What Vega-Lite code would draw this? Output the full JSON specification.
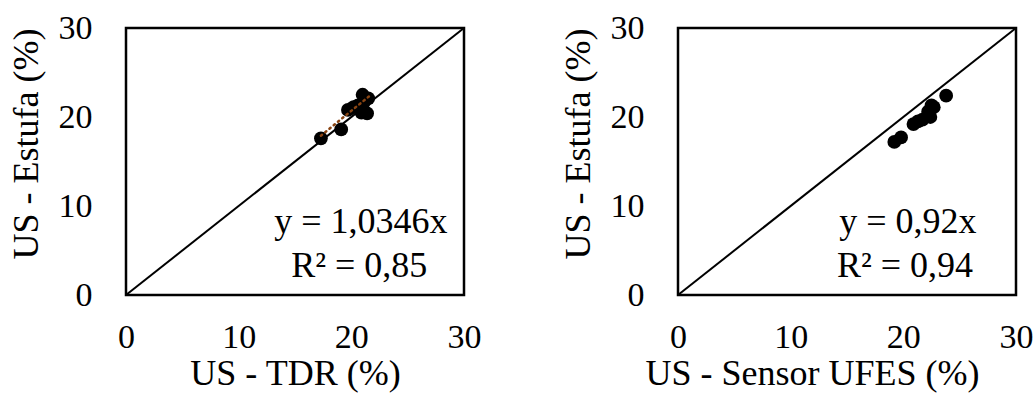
{
  "$schema": "https://vega.github.io/schema/vega-lite/v6.json",
  "background": "white",
  "padding": {"left": 6, "top": 9, "right": 0, "bottom": 0},
  "spacing": 75,
  "datasets": {
    "tdr": [
      {"x": 17.3, "y": 17.6},
      {"x": 19.1, "y": 18.6},
      {"x": 19.7, "y": 20.8},
      {"x": 20.2, "y": 21.1},
      {"x": 20.6, "y": 21.3},
      {"x": 20.9, "y": 20.5},
      {"x": 21.4, "y": 20.4},
      {"x": 21.1, "y": 21.6},
      {"x": 21.0, "y": 22.5},
      {"x": 21.5, "y": 22.1}
    ],
    "ufes": [
      {"x": 19.2, "y": 17.2},
      {"x": 19.8, "y": 17.7},
      {"x": 20.9, "y": 19.2},
      {"x": 21.3, "y": 19.5},
      {"x": 21.7, "y": 19.7},
      {"x": 22.4, "y": 20.0},
      {"x": 22.2, "y": 20.6},
      {"x": 22.7, "y": 21.1},
      {"x": 22.5, "y": 21.3},
      {"x": 23.8, "y": 22.4}
    ],
    "diag": [{"x": 0, "y": 0}, {"x": 30, "y": 30}],
    "trendTdr": [{"x": 17.3, "y": 17.9}, {"x": 21.6, "y": 22.35}],
    "eqTdr": [
      {"x": 20.85, "y": 7.0, "label": "y = 1,0346x"},
      {"x": 20.7, "y": 2.03, "label": "R² = 0,85"}
    ],
    "eqUfes": [
      {"x": 20.4, "y": 7.0, "label": "y = 0,92x"},
      {"x": 20.15, "y": 2.03, "label": "R² = 0,94"}
    ]
  },
  "hconcat": [
    {
      "width": 338,
      "height": 267,
      "layer": [
        {
          "data": {"name": "diag"},
          "mark": {"type": "line", "color": "black", "strokeWidth": 2},
          "encoding": {
            "x": {"field": "x", "type": "quantitative", "scale": {"domain": [0, 30], "nice": false},
                  "axis": {"title": "US - TDR (%)", "values": [0, 10, 20, 30]}},
            "y": {"field": "y", "type": "quantitative", "scale": {"domain": [0, 30], "nice": false},
                  "axis": {"title": "US - Estufa (%)", "values": [0, 10, 20, 30]}}
          }
        },
        {
          "data": {"name": "tdr"},
          "mark": {"type": "circle", "color": "black", "opacity": 1, "size": 190},
          "encoding": {
            "x": {"field": "x", "type": "quantitative"},
            "y": {"field": "y", "type": "quantitative"}
          }
        },
        {
          "data": {"name": "trendTdr"},
          "mark": {"type": "line", "color": "#8a4513", "strokeWidth": 2.5, "strokeDash": [1.5, 4], "strokeCap": "round"},
          "encoding": {
            "x": {"field": "x", "type": "quantitative"},
            "y": {"field": "y", "type": "quantitative"}
          }
        },
        {
          "data": {"name": "eqTdr"},
          "mark": {"type": "text", "align": "center", "baseline": "alphabetic", "font": "Liberation Serif, Times New Roman, serif", "fontSize": 36, "color": "black"},
          "encoding": {
            "x": {"field": "x", "type": "quantitative"},
            "y": {"field": "y", "type": "quantitative"},
            "text": {"field": "label"}
          }
        }
      ]
    },
    {
      "width": 338,
      "height": 267,
      "layer": [
        {
          "data": {"name": "diag"},
          "mark": {"type": "line", "color": "black", "strokeWidth": 2},
          "encoding": {
            "x": {"field": "x", "type": "quantitative", "scale": {"domain": [0, 30], "nice": false},
                  "axis": {"title": "US - Sensor UFES (%)", "values": [0, 10, 20, 30], "titleX": 134}},
            "y": {"field": "y", "type": "quantitative", "scale": {"domain": [0, 30], "nice": false},
                  "axis": {"title": "US - Estufa (%)", "values": [0, 10, 20, 30]}}
          }
        },
        {
          "data": {"name": "ufes"},
          "mark": {"type": "circle", "color": "black", "opacity": 1, "size": 190},
          "encoding": {
            "x": {"field": "x", "type": "quantitative"},
            "y": {"field": "y", "type": "quantitative"}
          }
        },
        {
          "data": {"name": "eqUfes"},
          "mark": {"type": "text", "align": "center", "baseline": "alphabetic", "font": "Liberation Serif, Times New Roman, serif", "fontSize": 36, "color": "black"},
          "encoding": {
            "x": {"field": "x", "type": "quantitative"},
            "y": {"field": "y", "type": "quantitative"},
            "text": {"field": "label"}
          }
        }
      ]
    }
  ],
  "config": {
    "font": "Liberation Serif, Times New Roman, serif",
    "view": {"stroke": "black", "strokeWidth": 2.5, "fill": "white"},
    "axis": {
      "domain": false,
      "ticks": false,
      "tickSize": 0,
      "grid": false,
      "labelFlush": false,
      "labelOverlap": false,
      "labelFont": "Liberation Serif, Times New Roman, serif",
      "labelFontSize": 34,
      "labelColor": "black",
      "titleFont": "Liberation Serif, Times New Roman, serif",
      "titleFontSize": 36,
      "titleFontWeight": "normal",
      "titleColor": "black"
    },
    "axisX": {"labelPadding": 25, "titlePadding": 2},
    "axisY": {"labelPadding": 34, "titlePadding": 13, "titleAnchor": "end"}
  }
}
